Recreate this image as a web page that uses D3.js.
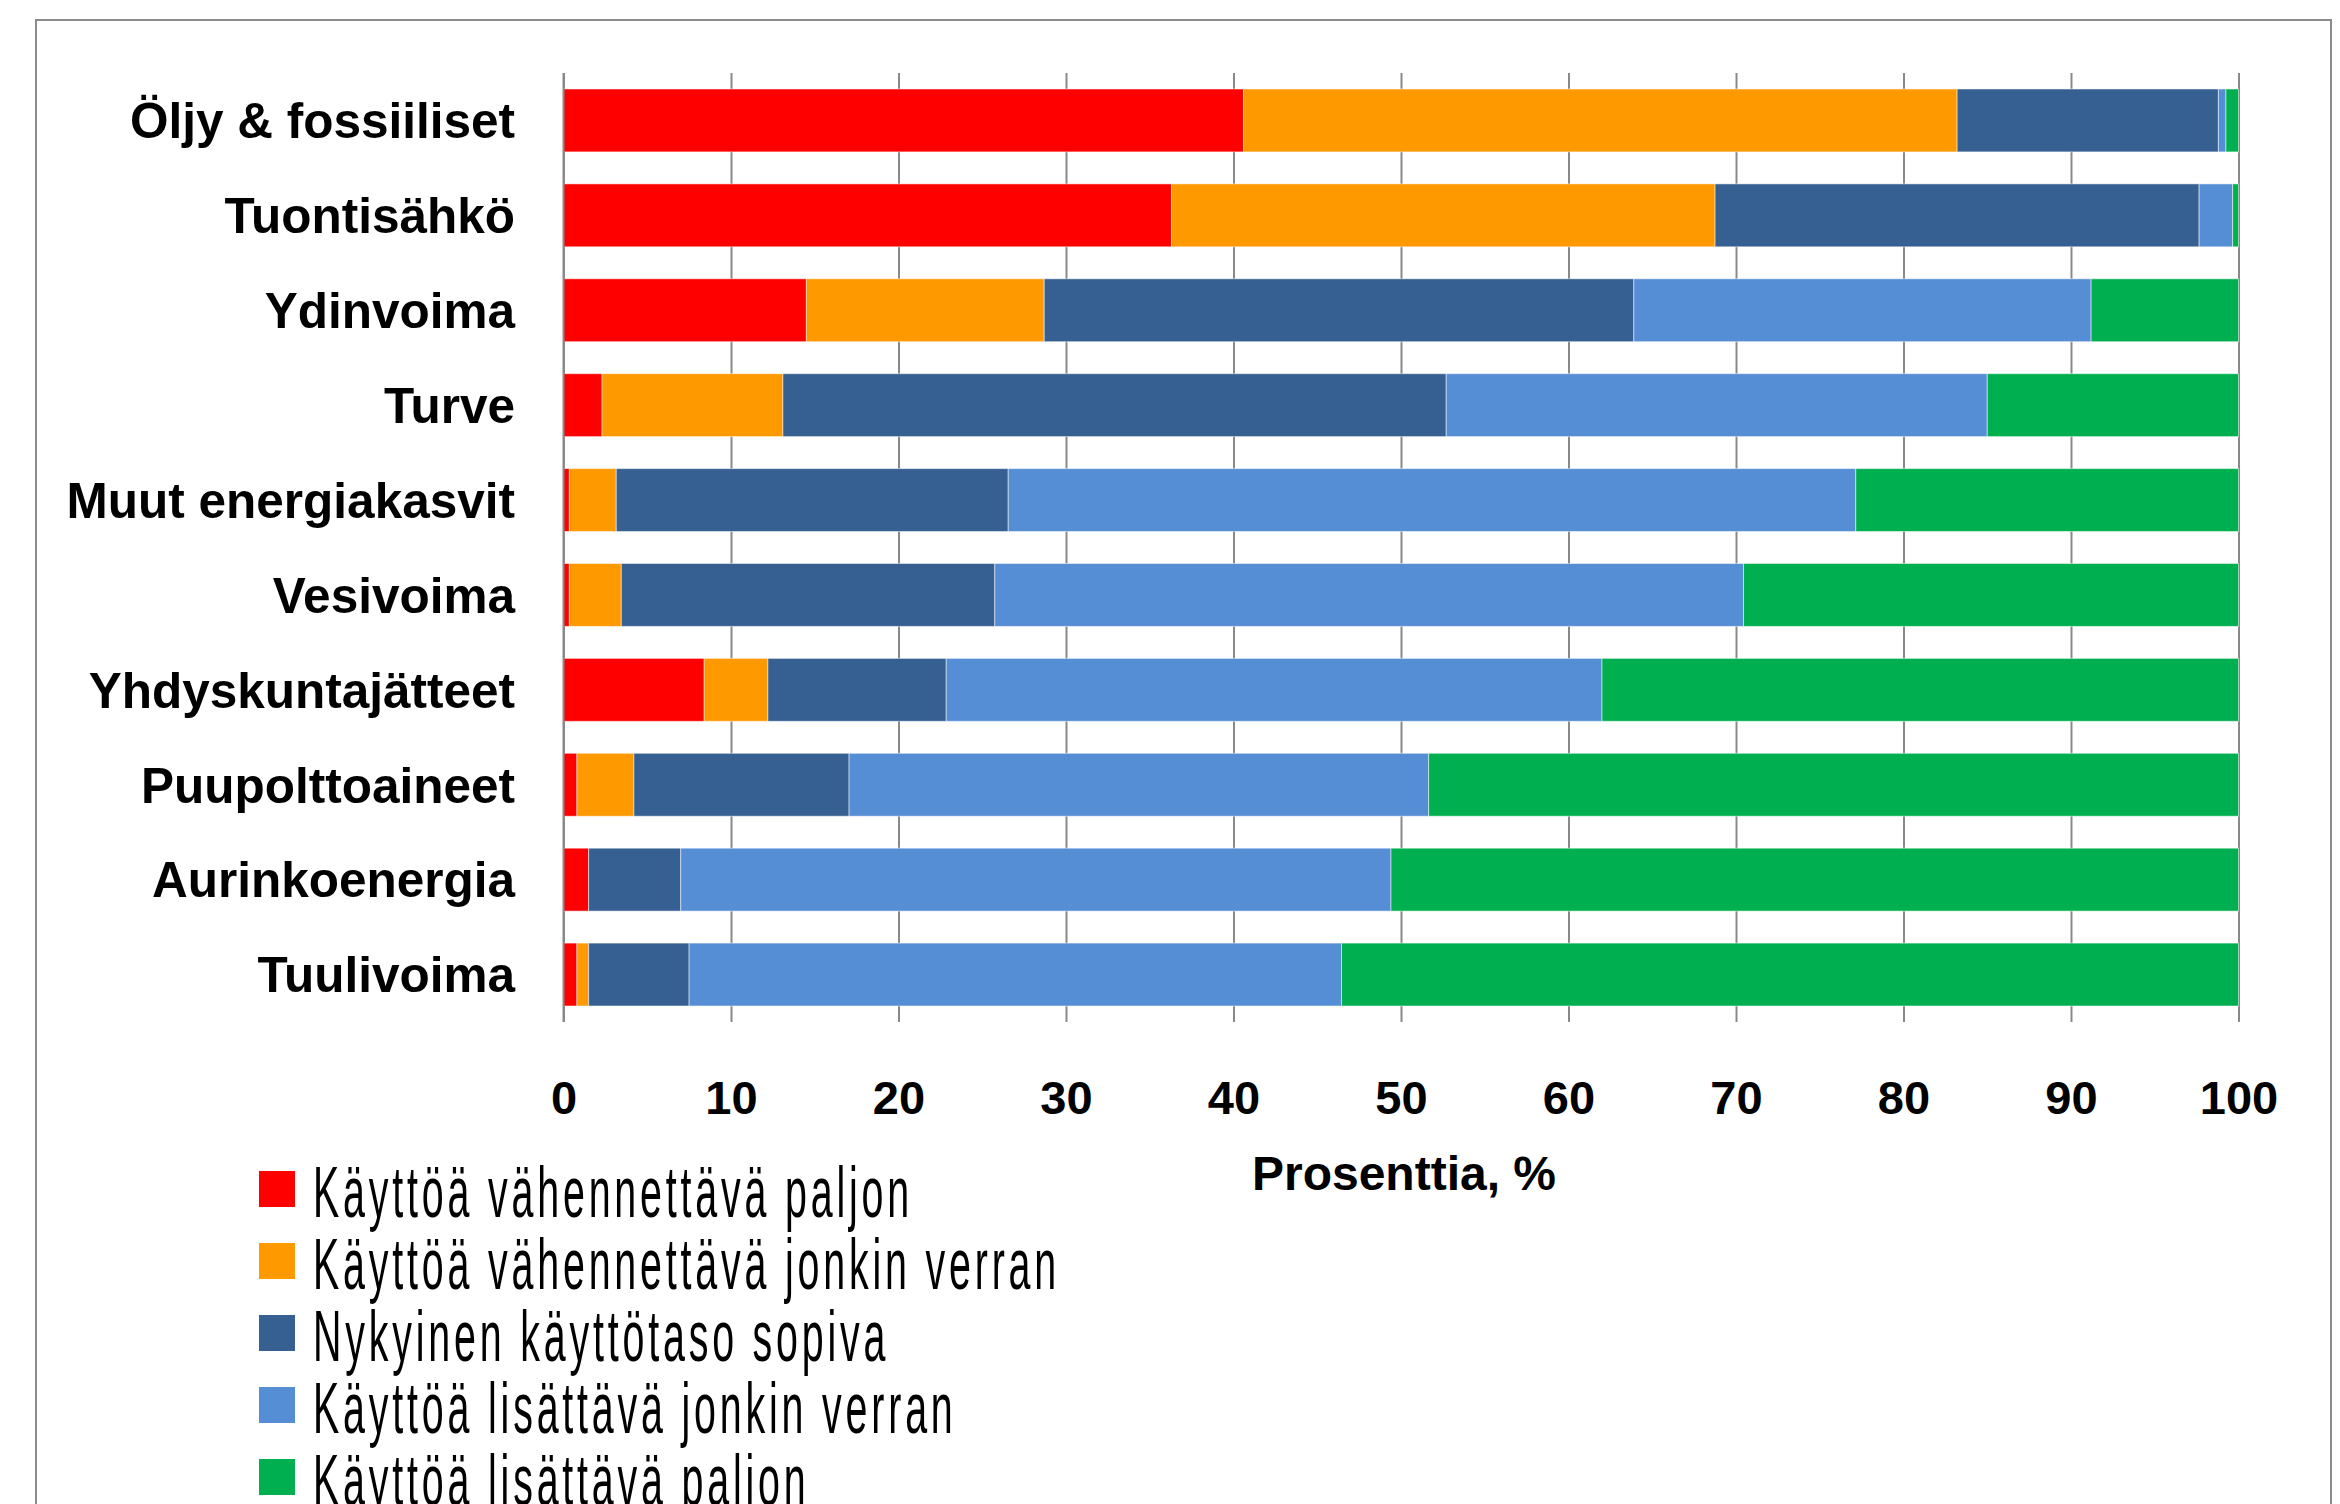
<!DOCTYPE html>
<html>
<head>
<meta charset="utf-8">
<script src="https://cdn.jsdelivr.net/npm/d3@7"></script>
<style>
  body { margin: 0; background: #ffffff; }
  svg { display: block; }
</style>
</head>
<body>
<div id="chart"></div>
<script>
// ======================================
// Data
// ======================================
var categories = [
  "Öljy & fossiiliset",
  "Tuontisähkö",
  "Ydinvoima",
  "Turve",
  "Muut energiakasvit",
  "Vesivoima",
  "Yhdyskuntajätteet",
  "Puupolttoaineet",
  "Aurinkoenergia",
  "Tuulivoima"
];

var reduceMuch   = [40.6, 36.3, 14.5, 2.3, 0.35, 0.35, 8.4, 0.8, 1.5, 0.8];
var reduceSome   = [42.6, 32.45, 14.2, 10.8, 2.8, 3.1, 3.8, 3.4, 0, 0.7];
var currentOk    = [15.6, 28.9, 35.2, 39.6, 23.4, 22.3, 10.65, 12.85, 5.5, 6.0];
var increaseSome = [0.45, 2.0, 27.3, 32.3, 50.6, 44.7, 39.15, 34.6, 42.4, 38.95];
var increaseMuch = [0.75, 0.35, 8.8, 15.0, 22.85, 29.55, 38.0, 48.35, 50.6, 53.55];

var seriesNames = [
  "Käyttöä vähennettävä paljon",
  "Käyttöä vähennettävä jonkin verran",
  "Nykyinen käyttötaso sopiva",
  "Käyttöä lisättävä jonkin verran",
  "Käyttöä lisättävä paljon"
];

var xTicks = [0, 10, 20, 30, 40, 50, 60, 70, 80, 90, 100];
var xTitle = "Prosenttia, %";

// ======================================
// Setup
// ======================================
var svgWidth = 2340;
var svgHeight = 1504;

var plot = { left: 563.5, right: 2238.5, top: 73, bottom: 1022 };

var colors = ["#ff0000", "#ff9900", "#376092", "#558ed5", "#00b050"];
var gridColor = "#898989";

var keys = ["reduceMuch", "reduceSome", "currentOk", "increaseSome", "increaseMuch"];
var valueArrays = [reduceMuch, reduceSome, currentOk, increaseSome, increaseMuch];

// build the table for d3.stack
var table = categories.map(function(cat, i) {
  var row = { category: cat };
  keys.forEach(function(k, j) { row[k] = valueArrays[j][i]; });
  return row;
});

var svg = d3.select("#chart")
  .append("svg")
  .attr("width", svgWidth)
  .attr("height", svgHeight);

// outer chart frame
svg.append("rect")
  .attr("x", 36)
  .attr("y", 20)
  .attr("width", 2331 - 36)
  .attr("height", 1600)
  .attr("fill", "none")
  .attr("stroke", "#8c8c8c")
  .attr("stroke-width", 2);

// scales
var xScale = d3.scaleLinear()
  .domain([0, 100])
  .range([plot.left, plot.right]);

var yScale = d3.scaleBand()
  .domain(categories)
  .range([plot.top, plot.bottom])
  .paddingInner(0.337)
  .paddingOuter(0.1685);

// ======================================
// Gridlines + tick labels
// ======================================
var xAxis = d3.axisBottom(xScale)
  .tickValues(xTicks)
  .tickSize(-(plot.bottom - plot.top))
  .tickFormat(d3.format("d"));

var xAxisGroup = svg.append("g")
  .attr("transform", `translate(0, ${plot.bottom})`)
  .call(xAxis);

xAxisGroup.select(".domain").remove();
xAxisGroup.selectAll(".tick line")
  .attr("stroke", gridColor)
  .attr("stroke-width", 2);
xAxisGroup.selectAll(".tick text")
  .attr("y", 92)
  .attr("dy", 0)
  .attr("fill", "#000")
  .style("font-family", "'Liberation Sans', Arial, sans-serif")
  .style("font-weight", "bold")
  .style("font-size", "47px");

// ======================================
// Stacked bars
// ======================================
var stacked = d3.stack().keys(keys)(table);

var layers = svg.append("g")
  .selectAll("g")
  .data(stacked)
  .enter()
  .append("g")
  .attr("fill", (d, i) => colors[i]);

layers.selectAll("rect")
  .data(d => d)
  .enter()
  .append("rect")
  .attr("x", d => xScale(d[0]))
  .attr("y", d => yScale(d.data.category))
  .attr("width", d => Math.max(0, xScale(d[1]) - xScale(d[0])))
  .attr("height", yScale.bandwidth())
  .attr("stroke", "#ffffff")
  .attr("stroke-opacity", 0.5)
  .attr("stroke-width", 1);

// vertical axis line at 0
svg.append("line")
  .attr("x1", xScale(0))
  .attr("x2", xScale(0))
  .attr("y1", plot.top)
  .attr("y2", plot.bottom)
  .attr("stroke", gridColor)
  .attr("stroke-width", 2);

// ======================================
// Category labels
// ======================================
svg.append("g")
  .selectAll("text")
  .data(categories)
  .enter()
  .append("text")
  .attr("x", 515)
  .attr("y", d => yScale(d) + yScale.bandwidth() / 2)
  .attr("dy", "0.36em")
  .attr("text-anchor", "end")
  .style("font-family", "'Liberation Sans', Arial, sans-serif")
  .style("font-weight", "bold")
  .style("font-size", "49.5px")
  .text(d => d);

// x axis title
svg.append("text")
  .attr("x", (plot.left + plot.right) / 2 + 3)
  .attr("y", 1190)
  .attr("text-anchor", "middle")
  .style("font-family", "'Liberation Sans', Arial, sans-serif")
  .style("font-weight", "bold")
  .style("font-size", "48px")
  .text(xTitle);

// ======================================
// Legend (narrow, spaced-out font look)
// ======================================
var legend = svg.append("g");

var legendItems = legend.selectAll("g")
  .data(seriesNames)
  .enter()
  .append("g")
  .attr("transform", (d, i) => `translate(0, ${i * 72})`);

legendItems.append("rect")
  .attr("x", 259)
  .attr("y", 1171)
  .attr("width", 36)
  .attr("height", 36)
  .attr("fill", (d, i) => colors[i]);

var legendTexts = legendItems.append("g")
  .attr("class", "legend-label")
  .append("text")
  .attr("x", 0)
  .attr("y", 0)
  .style("font-family", "'Liberation Sans', Arial, sans-serif")
  .style("font-size", "72px")
  .style("letter-spacing", "7px")
  .attr("fill", "#000")
  .text(d => d);

// squeeze the legend text horizontally so the first label is ~600px wide
var firstLen = legendTexts.node().getComputedTextLength();
var squeeze = firstLen > 0 ? 600 / firstLen : 0.55;

legendItems.select(".legend-label")
  .attr("transform", `translate(313, 1217) scale(${squeeze}, 1)`);
</script>
</body>
</html>
